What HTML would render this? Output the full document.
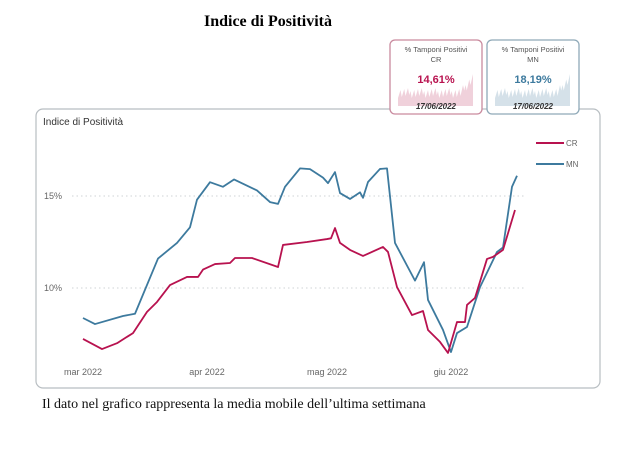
<!DOCTYPE html>
<html><head><meta charset="utf-8">
<style>
body{margin:0;background:#fff;width:620px;height:468px;overflow:hidden;position:relative}
svg{position:absolute;left:0;top:0}
</style></head>
<body>
<svg id="chart" width="620" height="468" viewBox="0 0 620 468">
<text x="268" y="26" text-anchor="middle" font-family="Liberation Serif, serif" font-weight="bold" font-size="16" fill="#000">Indice di Positività</text>
<rect x="36" y="109" width="564" height="279" rx="7" fill="#fff" stroke="#b8bec2" stroke-width="1.2"/>
<text x="43" y="125" font-family="Liberation Sans, sans-serif" font-size="10" fill="#333">Indice di Positività</text>
<g id="cards"></g>
<g id="grid"></g>
<g id="lines"></g>
<g>
<line x1="536" y1="143" x2="564" y2="143" stroke="#b8124f" stroke-width="2"/>
<text x="566" y="146" font-family="Liberation Sans, sans-serif" font-size="8" fill="#666">CR</text>
<line x1="536" y1="164" x2="564" y2="164" stroke="#3d7a9e" stroke-width="2"/>
<text x="566" y="167" font-family="Liberation Sans, sans-serif" font-size="8" fill="#666">MN</text>
</g>
<text x="42" y="408" font-family="Liberation Serif, serif" font-size="14" fill="#111">Il dato nel grafico rappresenta la media mobile dell’ultima settimana</text>
</svg>
<script>
const crDays=[0,4.75,8.5,12.5,16,18.5,21.75,26,28.75,30,33,36.75,38,42.25,48.75,50,56,61,62,63,64.25,66.75,70,75,76.25,78.5,82.25,85,86.25,89.25,91.25,93.5,94,95.5,96,98,101,102.5,105,108];
const crVals=[7.23,6.68,7.0,7.55,8.7,9.24,10.16,10.6,10.6,11.0,11.3,11.36,11.63,11.63,11.14,12.34,12.5,12.66,12.7,13.26,12.45,12.07,11.74,12.23,11.96,10.05,8.53,8.75,7.72,7.07,6.47,8.15,8.15,8.15,9.08,9.46,11.58,11.69,12.07,14.24];
const mnDays=[0,3,10,13,18.75,23.5,26.75,28.5,31.75,35,37.75,43.5,46.75,48.75,50.5,54.25,56.75,60,61.25,63,64.25,66.75,69.25,70,71.25,74.25,76,78,83,85.25,86.25,90,92,93.5,96,99.25,103.5,105,107.25,108.5];
const mnVals=[8.37,8.04,8.48,8.6,11.6,12.45,13.3,14.8,15.75,15.5,15.9,15.3,14.67,14.57,15.5,16.5,16.46,16.0,15.7,16.3,15.16,14.84,15.2,14.9,15.76,16.47,16.5,12.45,10.4,11.4,9.35,7.72,6.52,7.55,7.88,10.05,11.96,12.2,15.5,16.1];
const yTicks=[10,15];
const yTickLabels=["10%","15%"];
const xTickDays=[0,31,61,92];
const xTickLabels=["mar 2022","apr 2022","mag 2022","giu 2022"];
const NS="http://www.w3.org/2000/svg";
const xS=d=>83+d*4.0;
const yS=v=>196-(v-15)*18.4;
function mk(t,a,p){const e=document.createElementNS(NS,t);for(const k in a)e.setAttribute(k,a[k]);p.appendChild(e);return e;}
const grid=document.getElementById('grid');
yTicks.forEach((v,i)=>{
 const l=mk('line',{x1:72,x2:525,y1:yS(v),y2:yS(v),stroke:'#cfd3d6','stroke-dasharray':'1.5 3','stroke-width':1},grid);
 
 
 const t=mk('text',{x:44,y:yS(v)+3,'font-family':'Liberation Sans, sans-serif','font-size':9,fill:'#666'},grid);
 t.textContent=yTickLabels[i];
 
 
});
xTickDays.forEach((d,i)=>{
 const t=mk('text',{x:xS(d),y:375,'text-anchor':'middle','font-family':'Liberation Sans, sans-serif','font-size':9,fill:'#666'},grid);
 t.textContent=xTickLabels[i];
 
 
});
const lines=document.getElementById('lines');
function draw(days,vals,color,name){
 const p=mk('polyline',{points:days.map((d,i)=>xS(d)+','+yS(vals[i])).join(' '),fill:'none',stroke:color,'stroke-width':1.8,'stroke-linejoin':'round'},lines);
 
 
}
draw(mnDays,mnVals,'#3d7a9e','line-mn');
draw(crDays,crVals,'#b8124f','line-cr');
const cards=document.getElementById('cards');
function card(x,border,fill,valColor,region,val,name){
 const g=mk('g',{},cards);
 
 
 mk('rect',{x:x,y:40,width:92,height:74,rx:5,fill:'#fff',stroke:border,'stroke-width':1.3},g);
 let pts=[];for(let i=0;i<=60;i++){pts.push((x+8+i*1.25)+','+(104-(6+((i*37)%11)+(i>50?(i-50)*1.5:0))));}
 mk('polygon',{points:(x+8)+',106 '+pts.join(' ')+' '+(x+83)+',106',fill:fill,opacity:0.6},g);
 const a=mk('text',{x:x+46,y:52,'text-anchor':'middle','font-family':'Liberation Sans, sans-serif','font-size':7.5,fill:'#555'},g);a.textContent='% Tamponi Positivi';
 const b=mk('text',{x:x+46,y:62,'text-anchor':'middle','font-family':'Liberation Sans, sans-serif','font-size':7.5,fill:'#555'},g);b.textContent=region;
 const c=mk('text',{x:x+46,y:83,'text-anchor':'middle','font-family':'Liberation Sans, sans-serif','font-size':11,'font-weight':'bold',fill:valColor},g);c.textContent=val;
 const d=mk('text',{x:x+46,y:109,'text-anchor':'middle','font-family':'Liberation Sans, sans-serif','font-size':8,'font-style':'italic','font-weight':'bold',fill:'#333'},g);d.textContent='17/06/2022';
}
card(390,'#c98a9e','#e6b3c3','#b8124f','CR','14,61%','kpi-card-cr');
card(487,'#8fa9b8','#b9cddb','#3d7a9e','MN','18,19%','kpi-card-mn');
</script>
</body></html>
